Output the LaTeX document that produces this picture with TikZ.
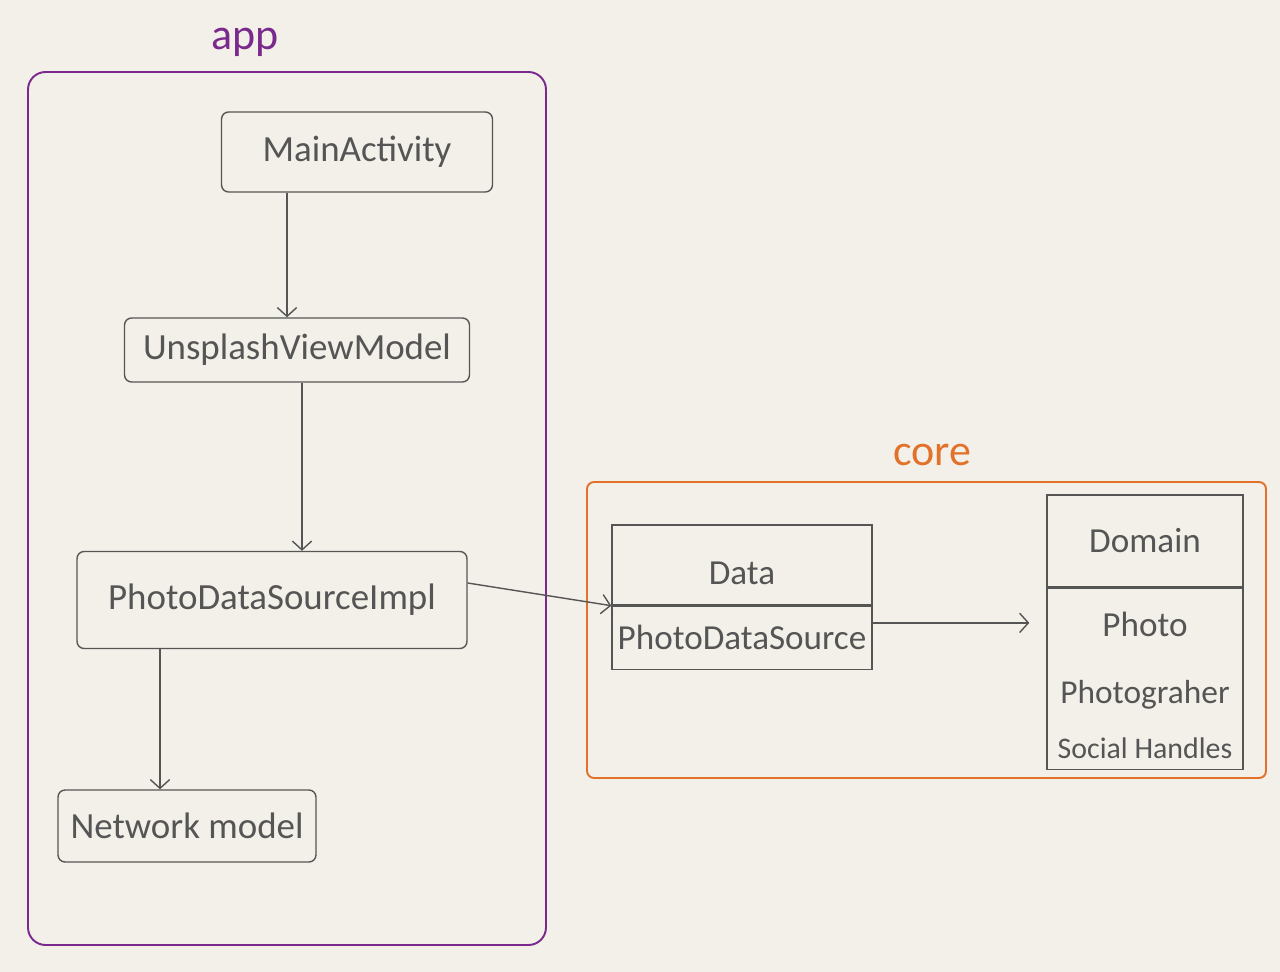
\documentclass[tikz,border=0pt]{standalone}
\usepackage{fontspec}
\setmainfont{Carlito}
\usetikzlibrary{arrows.meta, positioning}
\definecolor{paper}{HTML}{F3F0E9}
\definecolor{pencil}{HTML}{555555}
\definecolor{apppurple}{HTML}{7A2A8C}
\definecolor{coreorange}{HTML}{E2722A}

\tikzset{
  box/.style={draw=pencil, line width=0.8pt, rounded corners=4pt, text=pencil,
              font=\fontsize{21}{25}\selectfont, inner sep=0pt},
  compart/.style={draw=pencil, line width=0.8pt, text=pencil,
                  font=\fontsize{20}{24}\selectfont, inner sep=0pt,
                  minimum width=#1},
  flow/.style={pencil, line width=0.8pt, -{Straight Barb[length=5pt,width=11pt]}},
  modlabel/.style={font=\fontsize{25}{30}\selectfont},
}

\begin{document}
\begin{tikzpicture}[x=0.02cm, y=-0.02cm]
  % paper background, fixes the page size
  \fill[paper] (0,0) rectangle (1280,972);

  % app module
  \draw[apppurple, line width=1.1pt, rounded corners=10pt] (28,72) rectangle (546,945);
  \node[modlabel, text=apppurple] (applabel) at (245,42) {app};

  \node[box, minimum width=5.42cm, minimum height=1.6cm]  (mainact)   at (357,152) {MainActivity};
  \node[box, minimum width=6.9cm,  minimum height=1.28cm] (viewmodel) at (297,350) {UnsplashViewModel};
  \node[box, minimum width=7.8cm,  minimum height=1.94cm] (dsimpl)    at (272,600) {PhotoDataSourceImpl};
  \node[box, minimum width=5.16cm, minimum height=1.44cm] (netmodel)  at (187,826) {Network model};

  \draw[flow] ([xshift=-0.2cm]mainact.south -| viewmodel.north) -- ([xshift=-0.2cm]viewmodel.north);
  \draw[flow] ([xshift=0.1cm]viewmodel.south) -- ([xshift=0.1cm]viewmodel.south |- dsimpl.north);
  \draw[flow] ([xshift=-0.54cm]netmodel.north |- dsimpl.south) -- ([xshift=-0.54cm]netmodel.north);

  % core module
  \draw[coreorange, line width=1.1pt, rounded corners=4pt] (587,482) rectangle (1266,778);
  \node[modlabel, text=coreorange] (corelabel) at (932,455) {core};

  % Data package
  \node[compart=5.2cm, minimum height=1.6cm, text height=1.2cm, text depth=0.4cm] (datahead) at (742,565) {Data};
  \node[compart=5.2cm, minimum height=1.26cm, below=0pt of datahead] (databody) {PhotoDataSource};

  % Domain package
  \node[compart=3.92cm, minimum height=1.84cm] (domainhead) at (1145,541) {Domain};
  \node[compart=3.92cm, minimum height=3.62cm, align=center, below=0pt of domainhead] (domainbody)
    {\rule{0pt}{0.75cm}Photo\\[0.5cm] {\fontsize{19}{23}\selectfont Photograher}\\[0.25cm]
     {\fontsize{17}{20}\selectfont Social Handles}};

  \draw[flow] ([yshift=0.34cm]dsimpl.east) -- (datahead.south west);
  \draw[flow, shorten >=0.34cm] ([yshift=0.3cm]databody.east) -- ([yshift=0.3cm]databody.east -| domainbody.west);
\end{tikzpicture}
\end{document}
